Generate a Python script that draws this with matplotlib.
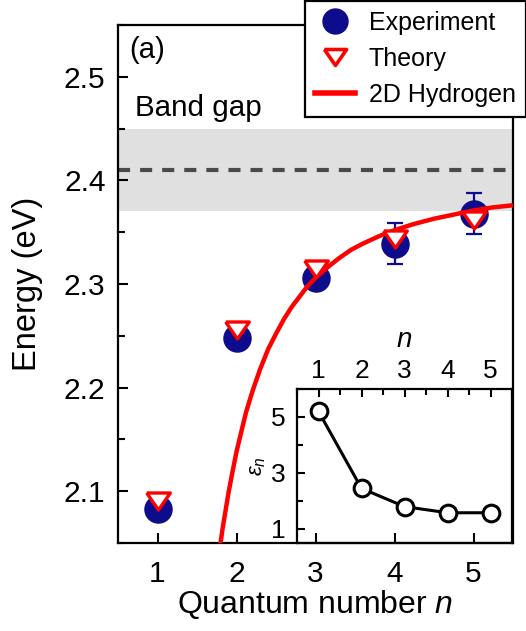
import numpy as np
import matplotlib
matplotlib.use("Agg")
import matplotlib.pyplot as plt
from matplotlib.lines import Line2D
from matplotlib.ticker import MultipleLocator

plt.rcParams['font.family'] = ['Liberation Sans', 'DejaVu Sans']
plt.rcParams['mathtext.fontset'] = 'custom'
plt.rcParams['mathtext.it'] = 'Liberation Sans:italic'
plt.rcParams['mathtext.rm'] = 'Liberation Sans'

# exciton energies vs quantum number
n_levels = [1, 2, 3, 4, 5]
e_exp = [2.083, 2.248, 2.306, 2.339, 2.368]
e_err = [0.0, 0.0, 0.0, 0.02, 0.02]
e_theory = [2.091, 2.256, 2.314, 2.343, 2.362]

# 2D hydrogen series
n_curve = [1.78, 1.82, 1.85, 1.9, 1.95, 2.0, 2.05, 2.12, 2.2, 2.3, 2.4, 2.5, 2.6, 2.7,
           2.8, 2.9, 3.0, 3.15, 3.3, 3.45, 3.6, 3.8, 4.0, 4.25, 4.5, 4.75, 5.0, 5.25, 5.5]
e_curve = [2.040, 2.062, 2.076, 2.099, 2.119, 2.138, 2.154, 2.176, 2.196, 2.218, 2.237,
           2.252, 2.266, 2.278, 2.288, 2.298, 2.306, 2.316, 2.325, 2.333, 2.339, 2.346,
           2.352, 2.358, 2.363, 2.367, 2.371, 2.374, 2.376]

gap_low, gap_high = 2.37, 2.45
gap_center = 2.41

# inset: dielectric screening per level
eps_n = [5.2, 2.45, 1.8, 1.58, 1.58]

W, H = 526, 631
fig = plt.figure(figsize=(W / 100, H / 100), dpi=100)
ax = fig.add_axes([118 / W, 1 - 543 / H, (513 - 118) / W, (543 - 25) / H])

navy = '#0c0c8c'
red = '#ff0000'
tri = [(-1, 0.72), (1, 0.72), (0, -0.72), (-1, 0.72)]

ax.axhspan(gap_low, gap_high, color='#e0e0e0', lw=0, zorder=0)
ax.axhline(gap_center, color='#4a4a4a', lw=3, dashes=(2.9, 2.4), zorder=1)

ax.errorbar(n_levels, e_exp, yerr=e_err, fmt='o', ms=19.5, color=navy,
            ecolor=navy, elinewidth=1.6, capsize=6, capthick=1.6, zorder=2)
ax.plot(n_curve, e_curve, color=red, lw=3.2, zorder=3, solid_capstyle='butt')
ax.plot(n_levels, e_theory, ls='none', marker=tri, ms=17, mfc='white',
        mec=red, mew=2.4, zorder=4)

ax.set_xlim(0.5, 5.5)
ax.set_ylim(2.05, 2.55)
ax.xaxis.set_major_locator(MultipleLocator(1))
ax.yaxis.set_major_locator(MultipleLocator(0.1))
ax.yaxis.set_minor_locator(MultipleLocator(0.05))
ax.tick_params(which='both', direction='in', top=False, right=False, width=1.5)
ax.tick_params(which='major', length=7, labelsize=21.5)
ax.tick_params(axis='x', which='major', pad=12)
ax.tick_params(axis='y', which='major', pad=9)
ax.tick_params(which='minor', length=5)
for s in ax.spines.values():
    s.set_linewidth(1.6)

ax.set_xlabel('Quantum number $\\mathit{n}$', fontsize=23, labelpad=0)
ax.set_ylabel('Energy (eV)', fontsize=23.5, labelpad=15)

ax.text(0.028, 0.952, '(a)', transform=ax.transAxes, fontsize=21, va='center')
ax.text(0.043, 0.84, 'Band gap', transform=ax.transAxes, fontsize=21.3, va='center')

handles = [
    Line2D([], [], ls='none', marker='o', ms=18, color=navy),
    Line2D([], [], ls='none', marker=tri, ms=16, mfc='white', mec=red, mew=2.6),
    Line2D([], [], color=red, lw=4),
]
leg = fig.legend(handles, ['Experiment', 'Theory', '2D Hydrogen'],
                 loc='upper left', bbox_to_anchor=(305 / W, 1 - 1 / H),
                 fontsize=18, frameon=True, fancybox=False, framealpha=1,
                 edgecolor='black', borderpad=0.4, handlelength=1.6,
                 handletextpad=0.55, labelspacing=0.48, borderaxespad=0)
leg.get_frame().set_linewidth(1.6)

# inset
ins = fig.add_axes([297 / W, 1 - 543 / H, (512 - 297) / W, (543 - 389) / H])
ins.set_facecolor('none')
ins.plot(n_levels, eps_n, color='black', lw=2.2, marker='o', ms=12,
         mfc='white', mec='black', mew=2.2)
ins.set_xlim(0.5, 5.5)
ins.set_ylim(0.5, 6)
ins.xaxis.set_major_locator(MultipleLocator(1))
ins.xaxis.set_minor_locator(MultipleLocator(0.5))
ins.yaxis.set_minor_locator(MultipleLocator(1))
ins.set_yticks([1, 3, 5])
ins.xaxis.tick_top()
ins.xaxis.set_label_position('top')
ins.tick_params(which='both', direction='in', bottom=False, right=False, width=1.5)
ins.tick_params(which='major', length=6, labelsize=19)
ins.tick_params(axis='x', which='major', pad=4)
ins.tick_params(axis='y', which='major', pad=8)
ins.tick_params(which='minor', length=4)
for s in ins.spines.values():
    s.set_linewidth(1.6)
ins.set_xlabel('$\\mathit{n}$', fontsize=20, labelpad=9)
ins.set_ylabel('$\\varepsilon_n$', fontsize=16, labelpad=2)

fig.savefig('out.png', dpi=100)
